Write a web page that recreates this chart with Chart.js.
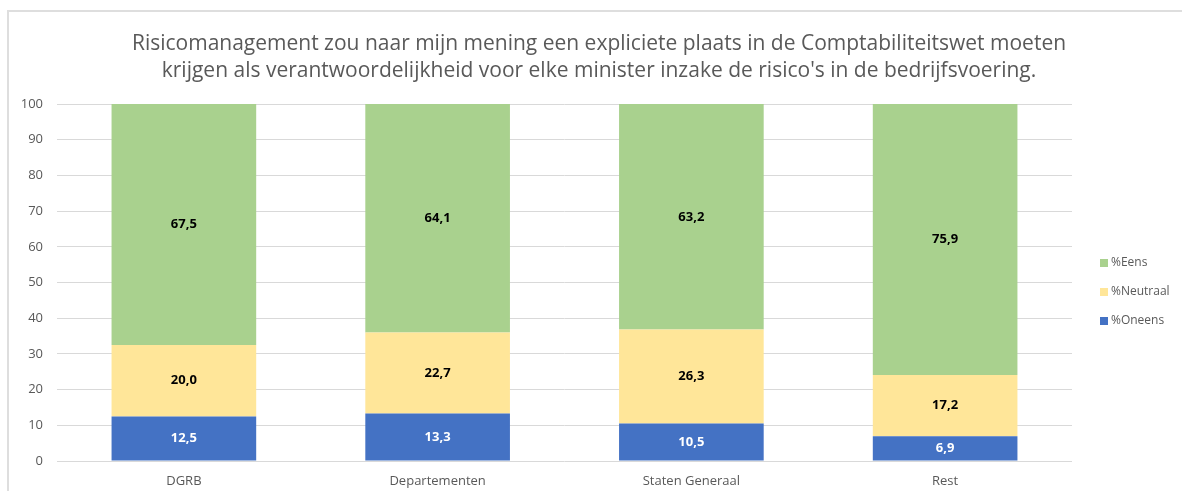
<!DOCTYPE html>
<html>
<head>
<meta charset="utf-8">
<script src="https://cdn.jsdelivr.net/npm/chart.js@4/dist/chart.umd.min.js"></script>
<style>
  html, body { margin: 0; padding: 0; background: #fff; }
  #frame {
    position: absolute; left: 7px; top: 10px; width: 1175px; height: 481px;
    border-left: 2px solid #dedede; border-top: 2px solid #dedede;
  }
  #wrap { position: absolute; left: -9px; top: -12px; width: 1182px; height: 491px; }
</style>
</head>
<body>
<div id="frame"><div id="wrap"><canvas id="myChart" width="1182" height="491"></canvas></div></div>
<script>
var categories = ["DGRB", "Departementen", "Staten Generaal", "Rest"]
var oneens = [12.5, 13.3, 10.5, 6.9]
var neutraal = [20.0, 22.7, 26.3, 17.2]
var eens = [67.5, 64.1, 63.2, 75.9]
var titleLines = [
  "Risicomanagement zou naar mijn mening een expliciete plaats in de Comptabiliteitswet moeten",
  "krijgen als verantwoordelijkheid voor elke minister inzake de risico's in de bedrijfsvoering."
]

var FONT = "'Open Sans', sans-serif"
var GREY = "#595959"

// value labels in the middle of every segment, dutch decimal comma
var barLabels = {
  id: "barLabels",
  afterDatasetsDraw: function(chart) {
    var ctx = chart.ctx
    ctx.save()
    ctx.font = "bold 13px " + FONT
    ctx.textAlign = "center"
    ctx.textBaseline = "middle"
    chart.data.datasets.forEach(function(ds, i) {
      var meta = chart.getDatasetMeta(i)
      meta.data.forEach(function(bar, j) {
        var mid = (bar.y + bar.base) / 2
        ctx.fillStyle = i === 0 ? "#ffffff" : "#000000"
        ctx.fillText(ds.data[j].toFixed(1).replace(".", ","), bar.x, mid)
      })
    })
    ctx.restore()
  }
}

// title centred over the whole frame, not just the plot
var frameTitle = {
  id: "frameTitle",
  afterDraw: function(chart) {
    var ctx = chart.ctx
    ctx.save()
    ctx.font = "21px " + FONT
    ctx.fillStyle = GREY
    ctx.textAlign = "center"
    ctx.textBaseline = "middle"
    titleLines.forEach(function(line, i) {
      ctx.fillText(line, 599, 44 + i * 27)
    })
    ctx.restore()
  }
}

// legend on the right, top series first
var sideLegend = {
  id: "sideLegend",
  afterDraw: function(chart) {
    var ctx = chart.ctx
    var ds = chart.data.datasets
    var x = chart.chartArea.right + 28
    var y = 263
    ctx.save()
    ctx.font = "12px " + FONT
    ctx.textBaseline = "middle"
    ctx.textAlign = "left"
    for (var i = ds.length - 1; i >= 0; i--) {
      ctx.fillStyle = ds[i].backgroundColor
      ctx.fillRect(x, y - 4, 8, 8)
      ctx.fillStyle = GREY
      ctx.fillText(ds[i].label, x + 11, y)
      y += 29
    }
    ctx.restore()
  }
}

var myChart = document.getElementById("myChart").getContext("2d")
var chart = new Chart(myChart, {
  type: "bar",
  data: {
    labels: categories,
    datasets: [
      { label: "%Oneens", data: oneens, backgroundColor: "#4472c4" },
      { label: "%Neutraal", data: neutraal, backgroundColor: "#ffe699" },
      { label: "%Eens", data: eens, backgroundColor: "#a9d18e" }
    ]
  },
  options: {
    responsive: false,
    animation: false,
    layout: { padding: { left: 0, right: 110, top: 104, bottom: 0 } },
    datasets: { bar: { categoryPercentage: 1, barPercentage: 0.57 } },
    scales: {
      x: {
        stacked: true,
        grid: { display: false },
        border: { display: false },
        ticks: { color: GREY, font: { family: FONT, size: 13 }, padding: 4 },
        afterFit: function(scale) { scale.height = 30 }
      },
      y: {
        stacked: true,
        min: 0, max: 100,
        ticks: { stepSize: 10, color: GREY, font: { family: FONT, size: 13 }, padding: 14 },
        grid: { color: "#d9d9d9", drawTicks: false },
        border: { display: false },
        afterFit: function(scale) { scale.width = 57 }
      }
    },
    plugins: {
      title: { display: false },
      legend: { display: false },
      tooltip: { enabled: false }
    }
  },
  plugins: [barLabels, frameTitle, sideLegend]
})
</script>
</body>
</html>
